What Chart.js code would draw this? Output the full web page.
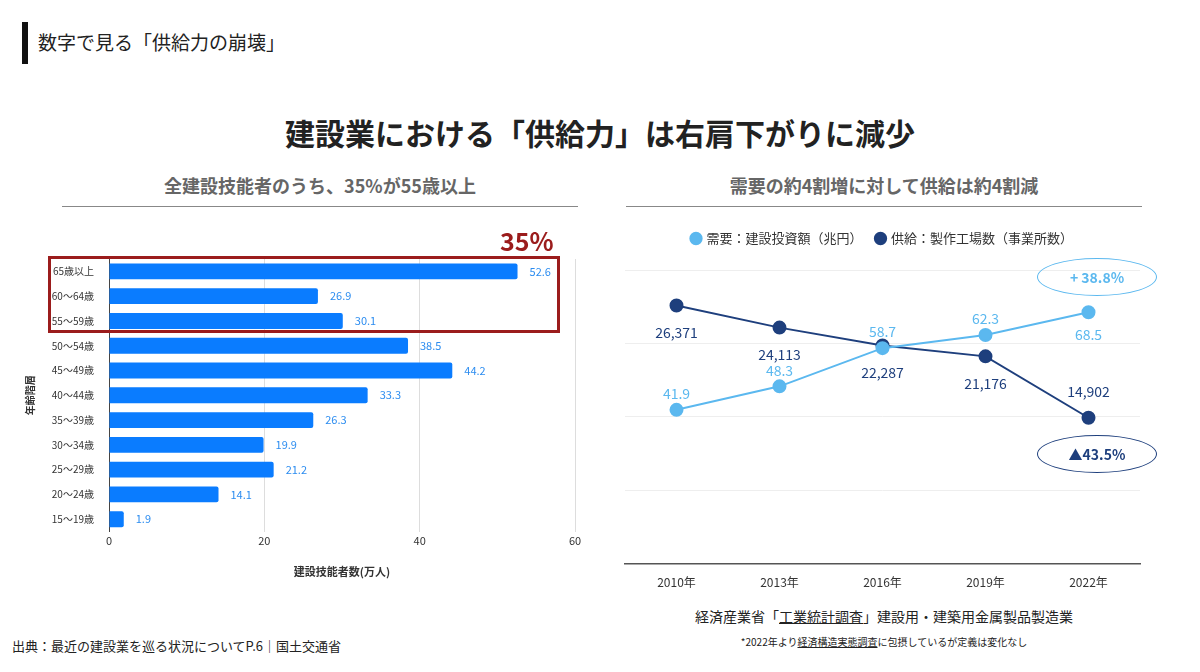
<!DOCTYPE html>
<html><head><meta charset="utf-8">
<script src="https://cdn.jsdelivr.net/npm/chart.js@4"></script>
<style>
body{margin:0;width:1200px;height:672px;background:#fff;font-family:"Noto Sans CJK JP","Noto Sans",sans-serif;position:relative;overflow:hidden;color:#222}
.abs{position:absolute}
</style></head><body>
<div class="abs" style="left:22px;top:22px;width:6px;height:42px;background:#111"></div>
<div class="abs" style="left:38px;top:28px;font-size:19px">数字で見る「供給力の崩壊」</div>
<div class="abs" style="left:0;width:1200px;top:110px;text-align:center;font-size:30px;font-weight:bold">建設業における「供給力」は右肩下がりに減少</div>
<div class="abs" style="left:62px;width:516px;top:172px;text-align:center;font-size:18px;font-weight:bold;color:#666">全建設技能者のうち、35%が55歳以上</div>
<div class="abs" style="left:62px;width:516px;top:206px;border-top:1.5px solid #888"></div>
<div class="abs" style="left:626px;width:516px;top:172px;text-align:center;font-size:18px;font-weight:bold;color:#666">需要の約4割増に対して供給は約4割減</div>
<div class="abs" style="left:626px;width:516px;top:206px;border-top:1.5px solid #888"></div>

<div class="abs" style="left:20px;top:246px;width:580px;height:336px"><canvas id="ageChart"></canvas></div>
<div class="abs" style="left:48px;top:256px;width:506px;height:71px;border:3px solid #9b1c1c"></div>
<div class="abs" style="left:500px;top:222px;font-size:25px;font-weight:bold;color:#9b1c1c">35%</div>

<div class="abs" style="left:615px;top:218px;width:545px;height:376px"><canvas id="trendChart"></canvas></div>
<div class="abs" style="left:1037px;top:258px;width:118px;height:36px;border:1.5px solid #5bb8ef;border-radius:50%;text-align:center;line-height:36px;font-size:14px;font-weight:bold;color:#5bb8ef">+ 38.8%</div>
<div class="abs" style="left:1037px;top:435px;width:118px;height:36px;border:1.5px solid #1e3f7d;border-radius:50%;text-align:center;line-height:36px;font-size:14px;font-weight:bold;color:#1e3f7d">▲43.5%</div>

<div class="abs" style="left:626px;width:516px;top:606px;text-align:center;font-size:14px">経済産業省「<u>工業統計調査</u>」建設用・建築用金属製品製造業</div>
<div class="abs" style="left:626px;width:516px;top:634px;text-align:center;font-size:10px">*2022年より<u>経済構造実態調査</u>に包摂しているが定義は変化なし</div>
<div class="abs" style="left:12px;top:636px;font-size:13px">出典：最近の建設業を巡る状況についてP.6｜国土交通省</div>

<script>
const ageLabels = ["65歳以上","60～64歳","55～59歳","50～54歳","45～49歳","40～44歳","35～39歳","30～34歳","25～29歳","20～24歳","15～19歳"];
const ageValues = [52.6, 26.9, 30.1, 38.5, 44.2, 33.3, 26.3, 19.9, 21.2, 14.1, 1.9];

const years = ["2010年","2013年","2016年","2019年","2022年"];
const demand = [41.9, 48.3, 58.7, 62.3, 68.5];
const supply = [26371, 24113, 22287, 21176, 14902];

const FONT = '"Noto Sans CJK JP","Noto Sans",sans-serif';

// value labels next to bars
const barLabels = {
  id: 'barLabels',
  afterDatasetsDraw(chart) {
    const ctx = chart.ctx;
    const meta = chart.getDatasetMeta(0);
    ctx.save();
    ctx.font = '11px ' + FONT;
    ctx.fillStyle = '#2b8cf0';
    ctx.textBaseline = 'middle';
    meta.data.forEach((bar, i) => {
      ctx.fillText(ageValues[i].toFixed(1), bar.x + 12, bar.y);
    });
    ctx.restore();
  }
};

new Chart(document.getElementById('ageChart'), {
  type: 'bar',
  data: { labels: ageLabels, datasets: [{ data: ageValues, backgroundColor: '#0a7cff', borderRadius: 2, categoryPercentage: 0.8, barPercentage: 0.8 }] },
  options: {
    indexAxis: 'y', responsive: true, maintainAspectRatio: false, animation: false,
    layout: { padding: { right: 25, top: 12, left: 0 } },
    plugins: { legend: { display: false }, tooltip: { enabled: false } },
    scales: {
      x: { min: 0, max: 60, ticks: { stepSize: 20, font: { size: 11, family: FONT }, color: '#333' },
           grid: { color: '#ddd', drawTicks: false }, border: { display: false },
           title: { display: true, text: '建設技能者数(万人)', font: { size: 11, weight: 'bold', family: FONT }, color: '#333', padding: { top: 14 } } },
      y: { afterFit(s) { s.width = 89; },
           ticks: { font: { size: 10, family: FONT }, color: '#333', padding: 7 }, grid: { display: false }, border: { color: '#444' },
           title: { display: true, text: '年齢階層', font: { size: 10, weight: 'bold', family: FONT }, color: '#333' } }
    }
  },
  plugins: [barLabels]
});

// point labels for line chart
const pointLabels = {
  id: 'pointLabels',
  afterDatasetsDraw(chart) {
    const ctx = chart.ctx;
    ctx.save();
    ctx.font = '14px ' + FONT;
    ctx.textAlign = 'center';
    ctx.textBaseline = 'middle';
    chart.data.datasets.forEach((ds, di) => {
      const meta = chart.getDatasetMeta(di);
      ctx.fillStyle = ds.borderColor;
      meta.data.forEach((pt, i) => {
        const last = i === ds.data.length - 1;
        let dy;
        if (di === 0) dy = last ? 22 : -16;
        else dy = last ? -26 : 27;
        const v = di === 0 ? ds.data[i].toFixed(1) : ds.data[i].toLocaleString('en-US');
        ctx.fillText(v, pt.x, pt.y + dy);
      });
    });
    ctx.restore();
  }
};

// extra space under the legend
const legendGap = {
  id: 'legendGap',
  beforeInit(chart) {
    const orig = chart.legend.fit;
    chart.legend.fit = function () { orig.bind(chart.legend)(); this.height += 15; };
  }
};

new Chart(document.getElementById('trendChart'), {
  type: 'line',
  data: {
    labels: years,
    datasets: [
      { label: '需要：建設投資額（兆円）', data: demand, yAxisID: 'yD', borderColor: '#5bb8ef', backgroundColor: '#5bb8ef', pointRadius: 6, borderWidth: 2 },
      { label: '供給：製作工場数（事業所数）', data: supply, yAxisID: 'yS', borderColor: '#1e3f7d', backgroundColor: '#1e3f7d', pointRadius: 6, borderWidth: 2 }
    ]
  },
  options: {
    responsive: true, maintainAspectRatio: false, animation: false,
    layout: { padding: { right: 20, left: 10 } },
    plugins: {
      tooltip: { enabled: false },
      legend: { labels: { usePointStyle: true, pointStyle: 'circle', boxWidth: 8, boxHeight: 8, font: { size: 13, family: FONT }, color: '#333', padding: 14 } }
    },
    scales: {
      x: { offset: true, grid: { display: false }, border: { color: '#555', width: 1.5 },
           ticks: { font: { size: 12, family: FONT }, color: '#333', padding: 4 } },
      yD: { position: 'left', min: 0, max: 80, ticks: { display: false, stepSize: 20 }, grid: { color: '#eee', drawTicks: false }, border: { display: false } },
      yS: { position: 'right', min: 0, max: 30000, display: false }
    }
  },
  plugins: [pointLabels, legendGap]
});
</script>
</body></html>
